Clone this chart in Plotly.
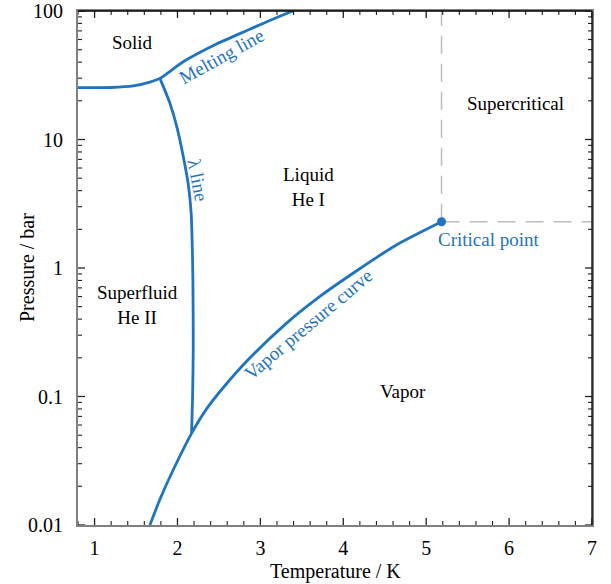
import math
import plotly.graph_objects as go

# ---- data ----
melt_T = [0.8, 1.2, 1.466, 1.667, 1.788, 2.069, 2.471, 2.872, 3.113, 3.39]
melt_P = [25.3, 25.4, 26.1, 28.0, 29.9, 40.3, 55.4, 72.1, 84.4, 100.0]

lambda_T = [1.788, 1.908, 1.993, 2.071, 2.131, 2.165, 2.178, 2.186, 2.190, 2.182, 2.170]
lambda_P = [29.9, 19.2, 12.5, 7.31, 4.43, 2.68, 1.51, 0.807, 0.243, 0.0991, 0.0517]

vapor_T = [1.667, 1.80, 1.948, 2.170, 2.351, 2.551, 2.872, 3.313, 3.714, 4.117, 4.640, 5.185]
vapor_P = [0.01, 0.0165, 0.0268, 0.0517, 0.0801, 0.117, 0.199, 0.371, 0.598, 0.91, 1.51, 2.29]

crit_T = 5.185
crit_P = 2.29

x_range = [0.8, 7.0]
y_range = [0.01, 100.0]
x_ticks = [1, 2, 3, 4, 5, 6, 7]
x_minor = [round(0.8 + 0.2 * i, 1) for i in range(32)]
y_ticks = [0.01, 0.1, 1, 10, 100]
y_ticktext = ["0.01", "0.1", "1", "10", "100"]
y_minor = [m * 10 ** e for e in (-2, -1, 0, 1) for m in range(2, 10)]

x_title = "Temperature / K"
y_title = "Pressure / bar"

region_labels = ["Solid", "Supercritical", "Liquid<br>He I", "Superfluid<br>He II", "Vapor"]
region_T = [1.463, 6.077, 3.583, 1.523, 4.716]
region_P = [56.4, 18.9, 4.27, 0.515, 0.110]

curve_labels = ["Melting line", "λ line", "Vapor pressure curve", "Critical point"]
curve_T = [2.531, 2.249, 3.575, 5.752]
curve_P = [44.0, 4.84, 0.366, 1.68]
curve_angle = [-29, 79, -40, 0]

# ---- styling ----
BLUE = "#1f74bf"
FONT = "Liberation Serif, Times New Roman, serif"
W, H = 611, 584
ML, MR, MT, MB = 78, 19, 11, 59
PX_X = (W - ML - MR) / (x_range[1] - x_range[0])          # pixels per kelvin
PX_Y = (H - MT - MB) / (math.log10(y_range[1]) - math.log10(y_range[0]))  # px per decade

fig = go.Figure()

dash = dict(color="#bdbdbd", width=1.5, dash="18px,10px")
fig.add_trace(go.Scatter(x=[crit_T, crit_T], y=[crit_P, y_range[1]], mode="lines",
                         line=dash, hoverinfo="skip", showlegend=False))
fig.add_trace(go.Scatter(x=[crit_T, x_range[1]], y=[crit_P, crit_P], mode="lines",
                         line=dash, hoverinfo="skip", showlegend=False))

for T, P in [(melt_T, melt_P), (lambda_T, lambda_P), (vapor_T, vapor_P)]:
    fig.add_trace(go.Scatter(x=T, y=P, mode="lines",
                             line=dict(color=BLUE, width=2.8, shape="spline", smoothing=0.7),
                             hoverinfo="skip", showlegend=False))

fig.add_trace(go.Scatter(x=[crit_T], y=[crit_P], mode="markers",
                         marker=dict(color=BLUE, size=9), hoverinfo="skip", showlegend=False))

# inside frame ticks, built from the tick lists as short line segments
def frame_ticks(length_px, xs, ys):
    tx, ty = [], []
    dy = 10 ** (length_px / PX_Y)
    dx = length_px / PX_X
    for v in xs:
        tx += [v, v, None, v, v, None]
        ty += [y_range[0], y_range[0] * dy, None, y_range[1], y_range[1] / dy, None]
    for v in ys:
        tx += [x_range[0], x_range[0] + dx, None, x_range[1], x_range[1] - dx, None]
        ty += [v, v, None, v, v, None]
    return tx, ty

x_minor_only = [v for v in x_minor if v not in x_ticks]
for L, xs, ys, wdt in [(7, x_ticks, y_ticks, 1.3), (4, x_minor_only, y_minor, 1.1)]:
    tx, ty = frame_ticks(L, xs, ys)
    fig.add_trace(go.Scatter(x=tx, y=ty, mode="lines", line=dict(color="#222", width=wdt),
                             hoverinfo="skip", showlegend=False))

for t, x, y in zip(region_labels, region_T, region_P):
    fig.add_annotation(x=x, y=math.log10(y), text=t, showarrow=False,
                       font=dict(family=FONT, size=19, color="black"))
for t, x, y, a in zip(curve_labels, curve_T, curve_P, curve_angle):
    fig.add_annotation(x=x, y=math.log10(y), text=t, showarrow=False, textangle=a,
                       font=dict(family=FONT, size=19, color=BLUE))

fig.add_annotation(x=0.5, y=0, xref="paper", yref="paper", text=x_title, showarrow=False,
                   yanchor="middle", yshift=-46, font=dict(family=FONT, size=20, color="black"))
fig.add_annotation(x=0, y=0.5, xref="paper", yref="paper", text=y_title, showarrow=False,
                   textangle=-90, xanchor="center", xshift=-51,
                   font=dict(family=FONT, size=20, color="black"))

common = dict(showgrid=False, zeroline=False, ticks="", automargin=False, showline=True,
              linecolor="#808080", linewidth=2, mirror=True,
              ticklabeloverflow="allow")
yr = [math.log10(y_range[0]), math.log10(y_range[1])]

fig.update_layout(
    width=W, height=H,
    margin=dict(l=ML, r=MR, t=MT, b=MB),
    paper_bgcolor="white", plot_bgcolor="white",
    font=dict(family=FONT, size=20, color="black"),
    xaxis=dict(range=x_range, tickmode="array", tickvals=x_ticks,
               tickfont=dict(family=FONT, size=20), ticklabelstandoff=4, **common),
    yaxis=dict(type="log", range=yr, tickmode="array", tickvals=y_ticks, ticktext=y_ticktext,
               tickfont=dict(family=FONT, size=20), ticklabelstandoff=9, **common),
)
fig.add_shape(type="line", xref="x domain", yref="y domain", x0=0, x1=1, y0=1, y1=1,
              line=dict(color="black", width=1.3), layer="above")
fig.add_shape(type="line", xref="x domain", yref="y domain", x0=1, x1=1, y0=0, y1=1,
              line=dict(color="black", width=1.3), layer="above")

fig.write_html("out.html", config={"displayModeBar": False},
               post_script="document.body.style.margin='0';")
